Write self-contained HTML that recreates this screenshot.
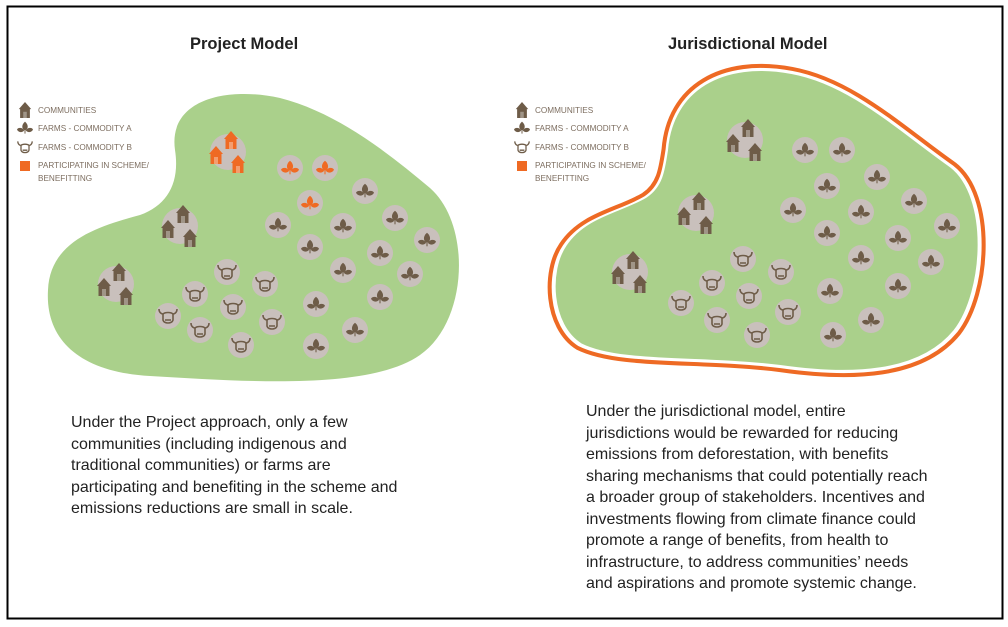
<!DOCTYPE html>
<html><head><meta charset="utf-8"><style>
html,body{margin:0;padding:0;background:#fff;}
body{width:1008px;height:627px;position:relative;overflow:hidden;font-family:"Liberation Sans",sans-serif;}
.t{position:absolute;font-family:"Liberation Sans",sans-serif;color:#222;}
.p{position:absolute;font-size:16px;line-height:21.5px;color:#222;white-space:nowrap;}
</style></head><body>
<svg width="1008" height="627" style="position:absolute;left:0;top:0">
<defs>
<symbol id="house" viewBox="-7 -9 14 18" overflow="visible">
<path d="M-7,-1 L0,-9 L7,-1 L5.5,-1 L5.5,9 L-5.5,9 L-5.5,-1 Z"/>
<rect x="-2" y="2" width="4" height="7" fill="#fff" opacity="0.35"/>
</symbol>
<symbol id="leaf" viewBox="-10 -10 20 20" overflow="visible">
<path d="M0,-8 C5,-4 4,2 0,3 C-4,2 -5,-4 0,-8Z"/>
<path d="M-1,3 C-3,-1 -9,-1 -10,2 C-8,6 -3,6 -1,3Z"/>
<path d="M1,3 C3,-1 9,-1 10,2 C8,6 3,6 1,3Z"/>
<rect x="-0.6" y="2" width="1.2" height="5"/>
</symbol>
<symbol id="cow" viewBox="-10 -10 20 20" overflow="visible">
<path d="M-9,-7 C-9,-3 -6,-2 -5,-2 L-5,4 C-4,8 4,8 5,4 L5,-2 C6,-2 9,-3 9,-7 M-5,-2 C-3,-4 3,-4 5,-2 M-3,4 L3,4" fill="none" stroke-width="1.6"/>
</symbol>
</defs>
<rect x="7.5" y="6.5" width="995" height="612" fill="none" stroke="#000" stroke-width="2"/>

<path d="M175,150 C168,100 225,86 280,98 C335,112 385,150 430,188 C472,225 468,322 420,355 C370,390 250,382 150,376 C80,372 45,340 48,290 C50,240 100,226 140,215 C168,205 180,182 175,150 Z" fill="#aad08b"/>
<path d="M665,150 C670,88 722,58 792,71 C852,82 902,130 952,165 C992,196 987,292 956,332 C920,376 850,378 780,368 C700,358 620,366 580,346 C548,326 546,270 564,244 C584,214 620,210 645,195 C660,185 662,170 665,150 Z" fill="#aad08b" stroke="#fff" stroke-width="6"/>
<path d="M665,150 C670,88 722,58 792,71 C852,82 902,130 952,165 C992,196 987,292 956,332 C920,376 850,378 780,368 C700,358 620,366 580,346 C548,326 546,270 564,244 C584,214 620,210 645,195 C660,185 662,170 665,150 Z" fill="none" stroke="#ee6a24" stroke-width="4" transform="translate(765 218) scale(1.014) translate(-765 -218)"/>

<g id="content"></g>
</svg>

<div class="t" style="left:190px;top:35px;font-size:16.5px;font-weight:bold;">Project Model</div>
<div class="t" style="left:668px;top:35px;font-size:16.5px;font-weight:bold;">Jurisdictional Model</div>

<div class="p" style="left:71px;top:412px;">Under the Project approach, only a few<br>communities (including indigenous and<br>traditional communities) or farms are<br>participating and benefiting in the scheme and<br>emissions reductions are small in scale.</div>
<div class="p" style="left:586px;top:401px;">Under the jurisdictional model, entire<br>jurisdictions would be rewarded for reducing<br>emissions from deforestation, with benefits<br>sharing mechanisms that could potentially reach<br>a broader group of stakeholders. Incentives and<br>investments flowing from climate finance could<br>promote a range of benefits, from health to<br>infrastructure, to address communities’ needs<br>and aspirations and promote systemic change.</div>

<script>
(function(){
var NS="http://www.w3.org/2000/svg",g=document.getElementById("content");
var BR="#6e5c48",OR="#ef6a23",GR="#c9c0bc";
function el(t,a){var e=document.createElementNS(NS,t);for(var k in a)e.setAttribute(k,a[k]);g.appendChild(e);return e;}
function use(id,x,y,w,h,c,stroke){var e=el("use",{href:"#"+id,x:x-w/2,y:y-h/2,width:w,height:h});if(stroke){e.setAttribute("stroke",c);e.setAttribute("fill","none");}else e.setAttribute("fill",c);return e;}
function circ(x,y,r){el("circle",{cx:x,cy:y,r:r,fill:GR});}
function leaf(x,y,c){circ(x,y,13);use("leaf",x,y,18,18,c||BR);}
function cow(x,y){circ(x,y,13);use("cow",x,y,20,20,BR,true);}
function cluster(x,y,c){circ(x,y,18);use("house",x+3,y-12,14,18,c);use("house",x-12,y+3,14,18,c);use("house",x+10,y+12,14,18,c);}
function legend(x){
 use("house",x+7,110,13,16,BR);
 use("leaf",x+7,128,16,16,BR);
 use("cow",x+7,147,16,16,BR,true);
 el("rect",{x:x+2,y:161,width:10,height:10,fill:OR});
 var L=[["COMMUNITIES",113],["FARMS - COMMODITY A",131],["FARMS - COMMODITY B",150],["PARTICIPATING IN SCHEME/",168],["BENEFITTING",181]];
 L.forEach(function(l){var t=el("text",{x:x+20,y:l[1],"font-size":"8.2","font-family":"Liberation Sans, sans-serif",fill:"#7d6e60"});t.textContent=l[0];});
}
legend(18);legend(515);
cluster(228,152,OR);cluster(180,226,BR);cluster(116,284,BR);
[[290,168,1],[325,168,1],[310,203,1],[365,191],[278,225],[343,226],[395,218],[310,247],[380,253],[427,240],[343,270],[410,274],[316,304],[380,297],[355,330],[316,346]].forEach(function(p){leaf(p[0],p[1],p[2]?OR:BR);});
[[227,272],[265,284],[195,294],[233,307],[168,316],[272,322],[200,330],[241,345]].forEach(function(p){cow(p[0],p[1]);});
cluster(745,140,BR);cluster(696,213,BR);cluster(630,272,BR);
[[805,150],[842,150],[877,177],[827,186],[793,210],[861,212],[914,201],[827,233],[898,238],[947,226],[861,258],[931,262],[830,291],[898,286],[871,320],[833,335]].forEach(function(p){leaf(p[0],p[1]);});
[[743,259],[781,272],[712,283],[749,296],[681,303],[788,312],[717,320],[757,335]].forEach(function(p){cow(p[0],p[1]);});
})();
</script>
</body></html>
